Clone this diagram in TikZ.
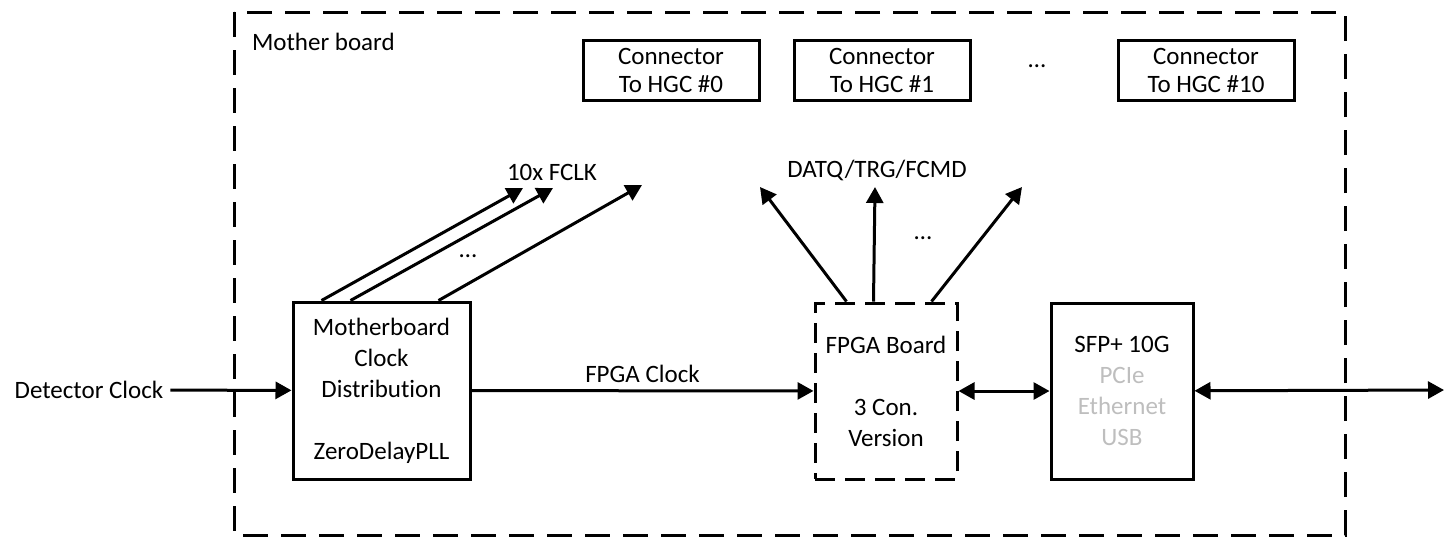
\documentclass[tikz,border=0pt]{standalone}
\usepackage{fontspec}
\setmainfont{Carlito}[Ligatures=NoCommon]
\usepackage{tikz}
\usetikzlibrary{arrows.meta,positioning}
\definecolor{lightgrey}{RGB}{190,190,190}

\begin{document}
\begin{tikzpicture}[
    x=0.5pt, y=-0.5pt,
    >={Triangle[length=8pt, width=8.5pt]},
    block/.style={
      rectangle,
      line width=1.5pt,
      align=center,
      inner sep=0pt,
      font=\fontsize{12.5}{15.5}\selectfont
    },
    conn/.style={
      rectangle,
      draw=black,
      line width=1.5pt,
      align=center,
      inner sep=0pt,
      minimum width=88pt,
      minimum height=30pt,
      font=\fontsize{12.5}{14}\selectfont
    },
    txt/.style={
      font=\fontsize{12.5}{14}\selectfont
    },
    link/.style={
      line width=1.5pt
    }
]

\useasboundingbox (0,0) rectangle (1446,538);

%% Frame
\draw[line width=1.5pt, dash pattern=on 12.5pt off 6.5pt] (234,12) rectangle (1345,535);
\node [txt, anchor=west] (mb) at (245,42) {Mother board};

%% Blocks
\node [txt] (det) at (89,390) {Detector Clock};
\node [block, draw=black, minimum width=88.5pt, minimum height=88.5pt] (mcd) at (381.5,390.5) {Motherboard\\Clock\\Distribution\\[15.5pt]ZeroDelayPLL};
\node [block, draw=black, dash pattern=on 10pt off 5pt, minimum width=71pt, minimum height=88pt] (fpga) at (886,391) {FPGA Board\\[15.5pt]3 Con.\\Version};
\node [block, draw=black, minimum width=71pt, minimum height=88pt] (sfp) at (1122,391) {SFP+ 10G\\\textcolor{lightgrey}{PCIe}\\\textcolor{lightgrey}{Ethernet}\\\textcolor{lightgrey}{USB}};

\node [conn] (hgc0) at (671,70) {Connector\\To HGC \#0};
\node [conn] (hgc1) [right = 16pt of hgc0] {Connector\\To HGC \#1};
\node [conn] (hgc10) [right = 72.5pt of hgc1] {Connector\\To HGC \#10};
\node [txt] (hdots) at (1037,66) {\dots};

%% Free ends
\coordinate (fclk0) at (523,188);
\coordinate (fclk1) at (553,188);
\coordinate (fclk9) at (642,185);
\coordinate (dat0) at (760,187);
\coordinate (dat1) at (875,187);
\coordinate (dat2) at (1022,187);
\coordinate (ext) at (1444,390);

%% Labels
\node [txt] (fclk) at (552,172) {10x FCLK};
\node [txt] (fdots) at (468,256) {\dots};
\node [txt] (datq) at (877,170) {DATQ/TRG/FCMD};
\node [txt] (ddots) at (923,238) {\dots};

%%% Arrows
\draw [->, link] (det) -- (mcd);
\draw [->, link] (mcd) -- node[txt, above] {FPGA Clock} (fpga);
\draw [->, link] ([xshift=15pt]mcd.north west) -- (fclk0);
\draw [->, link] ([xshift=29.5pt]mcd.north west) -- (fclk1);
\draw [->, link] ([xshift=73.5pt]mcd.north west) -- (fclk9);
\draw [->, link] ([xshift=16.5pt]fpga.north west) -- (dat0);
\draw [->, link] ([xshift=30pt]fpga.north west) -- (dat1);
\draw [->, link] ([xshift=59pt]fpga.north west) -- (dat2);
\draw [<->, link] (fpga) -- (sfp);
\draw [<->, link] (sfp) -- (ext);

\end{tikzpicture}
\end{document}
